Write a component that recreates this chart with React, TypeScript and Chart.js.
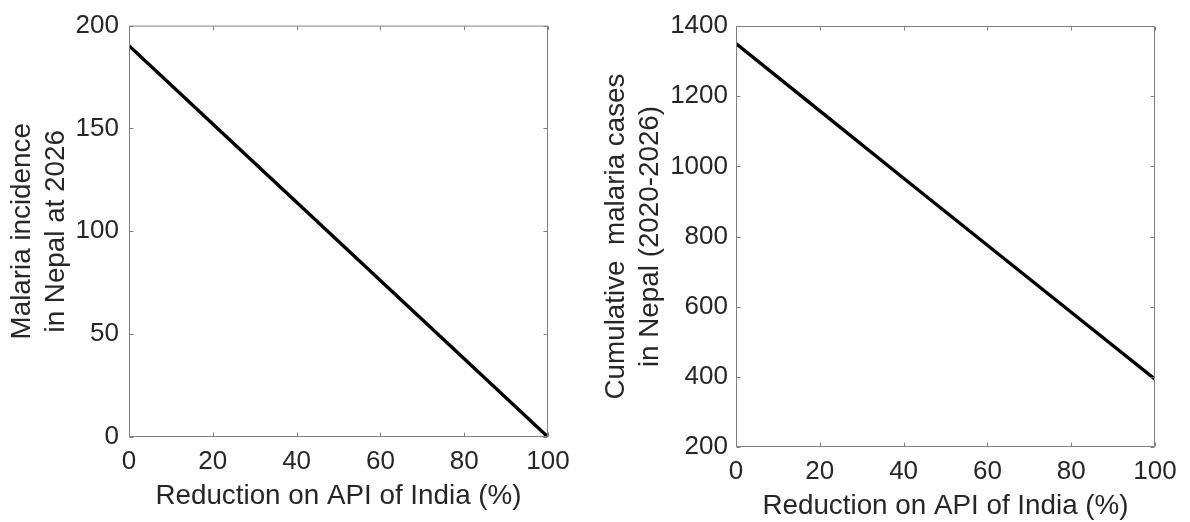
import React, { useEffect, useRef } from "react";
import { Chart, registerables } from "chart.js";

Chart.register(...registerables);

// ---- data ----
const reductionPct = [0, 20, 40, 60, 80, 100];
const incidence2026 = [190.2, 152.2, 114.1, 76.1, 38.0, 0];
const cumulativeCases = [1350, 1158, 966, 775, 584, 393];

const xTickValues = [0, 20, 40, 60, 80, 100];
const leftYTickValues = [0, 50, 100, 150, 200];
const rightYTickValues = [200, 400, 600, 800, 1000, 1200, 1400];

const xTitle = "Reduction on API of India (%)";
const leftYTitle = ["Malaria incidence", "in Nepal at 2026"];
const rightYTitle = ["Cumulative  malaria cases", "in Nepal (2020-2026)"];

const FONT = "'Liberation Sans', Arial, Helvetica, sans-serif";
const TEXT = "#262626";
const AXIS = "#808080";

const boxPlugin = {
  id: "matlabBox",
  afterDatasetsDraw(chart: any) {
    const { ctx, chartArea } = chart;
    const { left, right, top, bottom } = chartArea;
    const xs = chart.scales.x;
    const ys = chart.scales.y;
    const L = left + 0.5, R = right - 0.5, T = top + 0.5, B = bottom - 0.5;
    const tl = 4;
    ctx.save();
    ctx.strokeStyle = AXIS;
    ctx.lineWidth = 1;
    ctx.beginPath();
    ctx.rect(L, T, R - L, B - T);
    for (const t of xs.ticks) {
      const px = Math.round(xs.getPixelForValue(t.value)) + 0.5;
      ctx.moveTo(px, B);
      ctx.lineTo(px, B - tl);
      ctx.moveTo(px, T);
      ctx.lineTo(px, T + tl);
    }
    for (const t of ys.ticks) {
      const py = Math.round(ys.getPixelForValue(t.value)) + 0.5;
      ctx.moveTo(L, py);
      ctx.lineTo(L + tl, py);
      ctx.moveTo(R, py);
      ctx.lineTo(R - tl, py);
    }
    ctx.stroke();
    ctx.restore();
  },
};

interface PanelProps {
  values: number[];
  yTicks: number[];
  yTitle: string[];
  yMin: number;
  yMax: number;
  yAxisWidth: number;
  xAxisHeight: number;
  padTop: number;
  padRight: number;
  yTitlePad: number;
  xTitlePad: number;
  yTickPad: number;
  left: number;
}

function Panel(p: PanelProps) {
  const ref = useRef<HTMLCanvasElement | null>(null);
  useEffect(() => {
    if (!ref.current) return;
    const chart = new Chart(ref.current, {
      type: "line",
      data: {
        datasets: [
          {
            data: reductionPct.map((x, i) => ({ x, y: p.values[i] })),
            borderColor: "#000000",
            borderWidth: 3.4,
            pointRadius: 0,
            tension: 0,
            fill: false,
          },
        ],
      },
      options: {
        animation: false,
        responsive: false,
        devicePixelRatio: 1,
        layout: { padding: { top: p.padTop, right: p.padRight, left: 0, bottom: 0 } },
        plugins: { legend: { display: false }, tooltip: { enabled: false } },
        scales: {
          x: {
            type: "linear",
            position: "bottom",
            min: 0,
            max: 100,
            offset: false,
            grid: { display: false, drawTicks: false },
            border: { display: false },
            afterBuildTicks: (s: any) => {
              s.ticks = xTickValues.map((v) => ({ value: v }));
            },
            afterFit: (s: any) => {
              s.height = p.xAxisHeight;
            },
            ticks: {
              autoSkip: false,
              maxRotation: 0,
              padding: 9.5,
              color: TEXT,
              font: { family: FONT, size: 26, lineHeight: 1.2 },
              callback: (v: any) => String(v),
            },
            title: {
              display: true,
              text: xTitle,
              color: TEXT,
              font: { family: FONT, size: 27.8, lineHeight: 1 },
              padding: { top: 0, bottom: p.xTitlePad },
            },
          },
          y: {
            type: "linear",
            position: "left",
            min: p.yMin,
            max: p.yMax,
            grid: { display: false, drawTicks: false },
            border: { display: false },
            afterBuildTicks: (s: any) => {
              s.ticks = p.yTicks.map((v) => ({ value: v }));
            },
            afterFit: (s: any) => {
              s.width = p.yAxisWidth;
            },
            ticks: {
              autoSkip: false,
              padding: p.yTickPad,
              color: TEXT,
              font: { family: FONT, size: 26, lineHeight: 1.2 },
              callback: (v: any) => String(v),
            },
            title: {
              display: true,
              text: p.yTitle,
              color: TEXT,
              font: { family: FONT, size: 27.8, lineHeight: "34px" as any },
              padding: { top: p.yTitlePad, bottom: 0 },
            },
          },
        },
      },
      plugins: [boxPlugin],
    } as any);
    return () => chart.destroy();
  }, []);
  return (
    <canvas
      ref={ref}
      width={595}
      height={522}
      style={{ position: "absolute", left: p.left, top: 0, width: 595, height: 522, display: "block" }}
    />
  );
}

export default function App() {
  return (
    <div style={{ position: "absolute", left: 0, top: 0, width: 1190, height: 522, background: "#ffffff", overflow: "hidden" }}>
      <Panel
        values={incidence2026}
        yTicks={leftYTickValues}
        yTitle={leftYTitle}
        yMin={0}
        yMax={200}
        yAxisWidth={129}
        xAxisHeight={85}
        padTop={15}
        padRight={47}
        yTitlePad={5.7}
        xTitlePad={12.2}
        yTickPad={10}
        left={0}
      />
      <Panel
        values={cumulativeCases}
        yTicks={rightYTickValues}
        yTitle={rightYTitle}
        yMin={200}
        yMax={1400}
        yAxisWidth={141}
        xAxisHeight={75}
        padTop={26}
        padRight={35}
        yTitlePad={4.5}
        xTitlePad={2.2}
        yTickPad={8}
        left={595}
      />
    </div>
  );
}
